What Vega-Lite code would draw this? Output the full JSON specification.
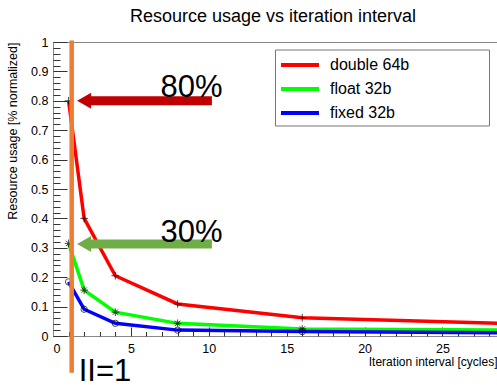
{
  "$schema": "https://vega.github.io/schema/vega-lite/v6.json",
  "width": 444,
  "height": 294,
  "autosize": {"type": "none"},
  "padding": {"left": 53, "top": 42, "right": 0, "bottom": 49},
  "title": {
    "text": "Resource usage vs iteration interval",
    "font": "Liberation Sans",
    "fontSize": 18,
    "fontWeight": "normal",
    "color": "black",
    "frame": "group",
    "anchor": "middle",
    "baseline": "alphabetic",
    "dx": -2,
    "offset": -4
  },
  "config": {
    "view": {"stroke": "#888"},
    "font": "Liberation Sans"
  },
  "datasets": {
    "series": [
      {"series": "double 64b", "x": 1, "y": 0.8},
      {"series": "double 64b", "x": 2, "y": 0.4},
      {"series": "double 64b", "x": 4, "y": 0.205},
      {"series": "double 64b", "x": 8, "y": 0.109},
      {"series": "double 64b", "x": 16, "y": 0.062},
      {"series": "double 64b", "x": 32, "y": 0.038},
      {"series": "float 32b", "x": 1, "y": 0.315},
      {"series": "float 32b", "x": 2, "y": 0.156},
      {"series": "float 32b", "x": 4, "y": 0.081},
      {"series": "float 32b", "x": 8, "y": 0.043},
      {"series": "float 32b", "x": 16, "y": 0.024},
      {"series": "float 32b", "x": 32, "y": 0.019},
      {"series": "fixed 32b", "x": 1, "y": 0.184},
      {"series": "fixed 32b", "x": 2, "y": 0.091},
      {"series": "fixed 32b", "x": 4, "y": 0.043},
      {"series": "fixed 32b", "x": 8, "y": 0.02},
      {"series": "fixed 32b", "x": 16, "y": 0.015},
      {"series": "fixed 32b", "x": 32, "y": 0.01}
    ],
    "marker": [{"x": 1.2, "y": 1.005, "y2": -0.125}],
    "arrows": [
      {"label": "80%", "y": 0.8, "tip": 1.55, "neck": 2.4, "tail": 10.2},
      {"label": "30%", "y": 0.313, "tip": 1.55, "neck": 2.4, "tail": 10.2}
    ],
    "notes": [
      {"text": "80%", "x": 6.9, "y": 0.813},
      {"text": "30%", "x": 6.9, "y": 0.32},
      {"text": "II=1", "x": 1.65, "y": -0.152}
    ]
  },
  "resolve": {"axis": {"x": "independent", "y": "independent"}},
  "layer": [
    {
      "data": {"name": "series"},
      "mark": {"type": "line", "strokeWidth": 3.5, "clip": true},
      "encoding": {
        "x": {
          "field": "x", "type": "quantitative",
          "scale": {"domain": [0, 28.5], "nice": false, "zero": false},
          "axis": {
            "orient": "bottom",
            "values": [0, 5, 10, 15, 20, 25],
            "grid": false,
            "tickSize": -9,
            "tickColor": "#333",
            "domainColor": "#888",
            "labelPadding": 15,
            "labelFont": "Liberation Sans",
            "labelFontSize": 12.5,
            "labelColor": "black",
            "title": "Iteration interval [cycles]",
            "titleAnchor": "end",
            "titleFont": "Liberation Sans",
            "titleFontSize": 12,
            "titleFontWeight": "normal",
            "titleColor": "black",
            "titlePadding": 2
          }
        },
        "y": {
          "field": "y", "type": "quantitative",
          "scale": {"domain": [0, 1], "nice": false},
          "axis": {
            "orient": "left",
            "values": [0, 0.1, 0.2, 0.3, 0.4, 0.5, 0.6, 0.7, 0.8, 0.9, 1],
            "format": "~g",
            "grid": false,
            "tickSize": -14,
            "tickColor": "#333",
            "domainColor": "#888",
            "labelPadding": 19,
            "labelFont": "Liberation Sans",
            "labelFontSize": 12.5,
            "labelColor": "black",
            "title": "Resource usage [% normalized]",
            "titleAnchor": "end",
            "titleFont": "Liberation Sans",
            "titleFontSize": 12.5,
            "titleFontWeight": "normal",
            "titleColor": "black",
            "titlePadding": 11
          }
        },
        "color": {
          "field": "series", "type": "nominal",
          "scale": {"domain": ["double 64b", "float 32b", "fixed 32b"], "range": ["#ff0000", "#00ff00", "#0000ff"]},
          "legend": {
            "title": null,
            "orient": "none",
            "legendX": 222,
            "legendY": 7.5,
            "direction": "vertical",
            "fillColor": "white",
            "strokeColor": "#777",
            "padding": 4,
            "symbolType": "M-1,0H3",
            "symbolSize": 361,
            "symbolStrokeWidth": 4,
            "symbolFillColor": "transparent",
            "labelOffset": 28,
            "labelFont": "Liberation Sans",
            "labelFontSize": 16,
            "labelColor": "black",
            "labelLimit": 300,
            "rowPadding": 4,
            "labelExpr": "datum.label + '\u00a0\u00a0\u00a0\u00a0\u00a0\u00a0\u00a0\u00a0\u00a0\u00a0\u00a0\u00a0\u00a0\u00a0\u00a0\u00a0\u00a0\u200b'"
          }
        }
      }
    },
    {
      "data": {"name": "series"},
      "layer": [
        {
          "transform": [{"filter": "datum.series === 'double 64b'"}],
          "mark": {"type": "point", "shape": "M-1,0H1M0,-1V1", "filled": false, "color": "black", "strokeWidth": 1, "size": 60, "clip": true},
          "encoding": {
            "x": {"field": "x", "type": "quantitative", "scale": {"domain": [0, 28.5], "nice": false, "zero": false}, "axis": null},
            "y": {"field": "y", "type": "quantitative", "scale": {"domain": [0, 1], "nice": false}, "axis": null}
          }
        },
        {
          "transform": [{"filter": "datum.series === 'float 32b'"}],
          "mark": {"type": "point", "shape": "M-1,0H1M0,-1V1M-0.7,-0.7L0.7,0.7M-0.7,0.7L0.7,-0.7", "filled": false, "color": "black", "strokeWidth": 1, "size": 60, "clip": true},
          "encoding": {
            "x": {"field": "x", "type": "quantitative", "scale": {"domain": [0, 28.5], "nice": false, "zero": false}, "axis": null},
            "y": {"field": "y", "type": "quantitative", "scale": {"domain": [0, 1], "nice": false}, "axis": null}
          }
        },
        {
          "transform": [{"filter": "datum.series === 'fixed 32b'"}],
          "mark": {"type": "point", "shape": "circle", "filled": false, "color": "black", "strokeWidth": 1, "size": 40, "clip": true},
          "encoding": {
            "x": {"field": "x", "type": "quantitative", "scale": {"domain": [0, 28.5], "nice": false, "zero": false}, "axis": null},
            "y": {"field": "y", "type": "quantitative", "scale": {"domain": [0, 1], "nice": false}, "axis": null}
          }
        }
      ]
    },
    {
      "data": {"name": "marker"},
      "mark": {"type": "rule", "color": "#ed7d31", "strokeWidth": 4.5},
      "encoding": {
        "x": {
          "field": "x", "type": "quantitative",
          "scale": {"domain": [0, 28.5], "nice": false, "zero": false},
          "axis": {
            "orient": "bottom",
            "values": [0,1,2,3,4,5,6,7,8,9,10,11,12,13,14,15,16,17,18,19,20,21,22,23,24,25,26,27,28],
            "grid": false, "labels": false, "domain": false, "title": null,
            "tickSize": -4.5, "tickColor": "#333"
          }
        },
        "y": {
          "field": "y", "type": "quantitative",
          "scale": {"domain": [0, 1], "nice": false},
          "axis": {
            "orient": "left",
            "values": [0,0.02,0.04,0.06,0.08,0.1,0.12,0.14,0.16,0.18,0.2,0.22,0.24,0.26,0.28,0.3,0.32,0.34,0.36,0.38,0.4,0.42,0.44,0.46,0.48,0.5,0.52,0.54,0.56,0.58,0.6,0.62,0.64,0.66,0.68,0.7,0.72,0.74,0.76,0.78,0.8,0.82,0.84,0.86,0.88,0.9,0.92,0.94,0.96,0.98,1],
            "grid": false, "labels": false, "domain": false, "title": null,
            "tickSize": -7, "tickColor": "#333"
          }
        },
        "y2": {"field": "y2"}
      }
    },
    {
      "data": {"name": "arrows"},
      "transform": [{"filter": "datum.label === '80%'"}],
      "layer": [
        {
          "mark": {"type": "rule", "color": "#c00000", "strokeWidth": 9, "strokeCap": "butt"},
          "encoding": {
            "x": {"field": "neck", "type": "quantitative", "scale": {"domain": [0, 28.5], "nice": false, "zero": false}, "axis": null},
            "x2": {"field": "tail"},
            "y": {"field": "y", "type": "quantitative", "scale": {"domain": [0, 1], "nice": false}, "axis": null}
          }
        },
        {
          "mark": {"type": "point", "shape": "M0,0L2,-1.14L2,1.14Z", "size": 196, "filled": true, "color": "#c00000", "opacity": 1},
          "encoding": {
            "x": {"field": "tip", "type": "quantitative", "scale": {"domain": [0, 28.5], "nice": false, "zero": false}, "axis": null},
            "y": {"field": "y", "type": "quantitative", "scale": {"domain": [0, 1], "nice": false}, "axis": null}
          }
        }
      ]
    },
    {
      "data": {"name": "arrows"},
      "transform": [{"filter": "datum.label === '30%'"}],
      "layer": [
        {
          "mark": {"type": "rule", "color": "#70ad47", "strokeWidth": 9, "strokeCap": "butt"},
          "encoding": {
            "x": {"field": "neck", "type": "quantitative", "scale": {"domain": [0, 28.5], "nice": false, "zero": false}, "axis": null},
            "x2": {"field": "tail"},
            "y": {"field": "y", "type": "quantitative", "scale": {"domain": [0, 1], "nice": false}, "axis": null}
          }
        },
        {
          "mark": {"type": "point", "shape": "M0,0L2,-1.14L2,1.14Z", "size": 196, "filled": true, "color": "#70ad47", "opacity": 1},
          "encoding": {
            "x": {"field": "tip", "type": "quantitative", "scale": {"domain": [0, 28.5], "nice": false, "zero": false}, "axis": null},
            "y": {"field": "y", "type": "quantitative", "scale": {"domain": [0, 1], "nice": false}, "axis": null}
          }
        }
      ]
    },
    {
      "data": {"name": "notes"},
      "mark": {"type": "text", "align": "left", "baseline": "alphabetic", "font": "Liberation Sans", "fontSize": 31, "color": "black"},
      "encoding": {
        "x": {"field": "x", "type": "quantitative", "scale": {"domain": [0, 28.5], "nice": false, "zero": false}, "axis": null},
        "y": {"field": "y", "type": "quantitative", "scale": {"domain": [0, 1], "nice": false}, "axis": null},
        "text": {"field": "text", "type": "nominal"}
      }
    }
  ]
}
